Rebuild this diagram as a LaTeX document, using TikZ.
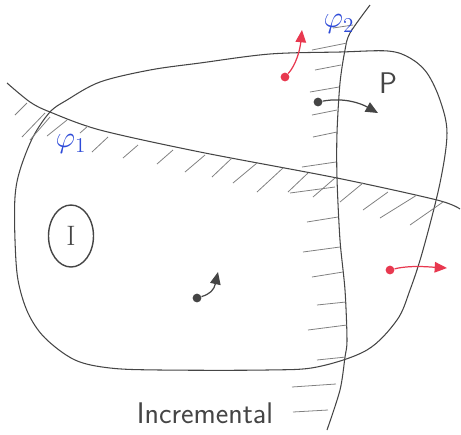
\documentclass[tikz,border=0pt]{standalone}
\usetikzlibrary{arrows.meta,shapes.geometric}
\definecolor{pen}{HTML}{454545}
\definecolor{hatchgray}{HTML}{808080}
\definecolor{inkblue}{HTML}{2E4BD8}
\definecolor{inkred}{HTML}{E8384F}

\begin{document}
\begin{tikzpicture}[
    x=0.02cm, y=-0.02cm,
    boundary/.style={draw=pen, line width=0.6pt},
    hatch/.style={draw=hatchgray, line width=0.45pt},
    pendot/.style={circle, fill=#1, inner sep=0pt, minimum size=5pt},
    flow/.style={-{Triangle[length=7pt, width=6pt]}, line width=0.7pt, color=#1},
    constraint/.style={font=\LARGE, text=inkblue},
    handtext/.style={font=\sffamily\fontsize{17}{20}\selectfont, text=pen}
]
\useasboundingbox (0,0) rectangle (461,434);

% region P
\draw[boundary] plot[smooth cycle, tension=0.55] coordinates {
  (200,63) (270,54) (340,52) (388,51) (410,58) (427,73) (440,100) (447,133)
  (440,183) (423,250) (410,290) (397,320) (367,350) (317,367) (267,370)
  (160,370) (110,368) (75,360) (45,338) (28,313) (18,280) (15,240) (15,197)
  (20,170) (33,137) (50,112) (67,100) (100,82) (150,70)};

% constraint phi_1
\draw[boundary] plot[smooth, tension=0.5] coordinates {
  (7,83) (30,102) (50,112) (100,130) (200,152) (337,178) (437,200) (460,209)};
\foreach \xa/\ya/\xb/\yb in {27/103/15/115, 45/113/22/137, 50/117/30/140,
    67/120/47/136, 88/126/80/133, 108/137/92/152, 138/145/123/158,
    173/150/157/164, 205/155/185/172, 232/158/212/177, 257/163/233/183,
    283/168/257/192, 308/173/288/192, 335/178/313/197, 363/183/340/202,
    388/192/363/210, 417/195/380/218, 443/202/410/225}
  \draw[hatch] (\xa,\ya) -- (\xb,\yb);

% constraint phi_2
\draw[boundary] plot[smooth, tension=0.5] coordinates {
  (370,5) (350,33) (345,50) (340,83) (337,133) (337,178) (340,240)
  (345,290) (347,340) (345,357) (340,390) (327,430)};
\foreach \xa/\ya/\xb/\yb in {333/28/353/25, 312/50/347/43, 315/70/341/65,
    310/92/339/87, 312/115/337/110, 313/137/337/132, 302/167/336/162,
    290/193/335/187, 307/222/338/217, 303/252/340/247, 312/277/343/272,
    317/305/346/302, 308/330/347/325, 317/360/346/357, 292/387/336/384,
    293/412/328/410}
  \draw[hatch] (\xa,\ya) -- (\xb,\yb);

\node[constraint] (phi1) at (71,144) {$\varphi_1$};
\node[constraint] (phi2) at (339,24) {$\varphi_2$};

\node[handtext] (prop) at (388,83) {P};
\node[draw=pen, ellipse, line width=0.8pt, minimum width=0.9cm, minimum height=1.24cm,
      font=\fontsize{16}{19}\selectfont, text=pen] (init) at (71,236) {I};
\node[handtext] (incr) at (205,413) {Incremental};

% transitions
\node[pendot=pen] (s1) at (318,102) {};
\coordinate (t1) at (378,113);
\draw[flow=pen] (s1) .. controls (345,97) and (362,104) .. (t1);

\node[pendot=pen] (s2) at (197,298) {};
\coordinate (t2) at (218,272);
\draw[flow=pen] (s2) .. controls (210,294) and (214,290) .. (t2);

\node[pendot=inkred] (s3) at (285,77) {};
\coordinate (t3) at (302,30);
\draw[flow=inkred] (s3) .. controls (296,65) and (300,50) .. (t3);

\node[pendot=inkred] (s4) at (390,270) {};
\coordinate (t4) at (447,268);
\draw[flow=inkred] (s4) .. controls (410,265) and (430,267) .. (t4);

\end{tikzpicture}
\end{document}
